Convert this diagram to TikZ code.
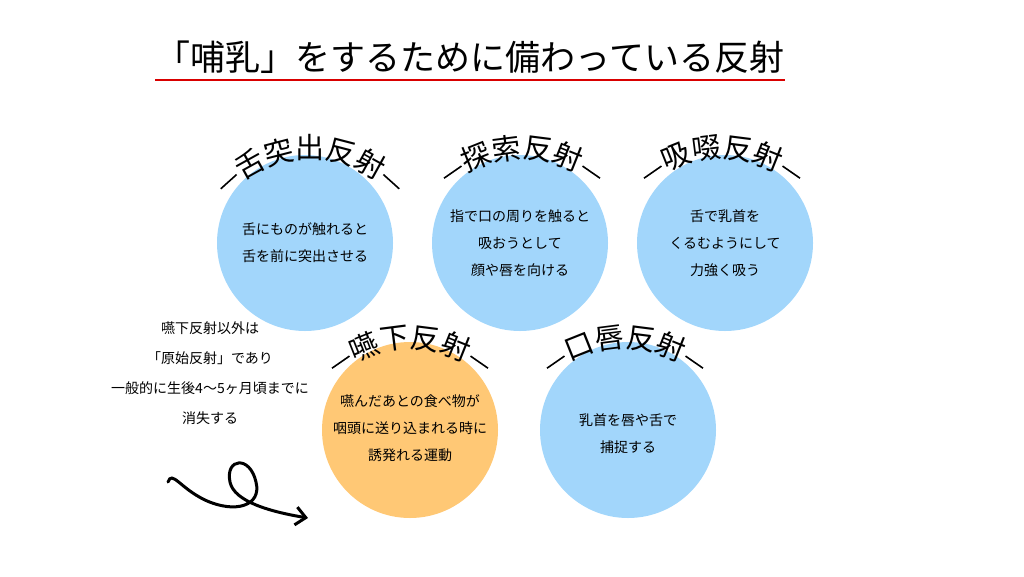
\documentclass[tikz,border=0pt]{standalone}
\usepackage{fontspec}
\setmainfont{Noto Sans CJK JP}
\usetikzlibrary{arrows.meta,calc}
\definecolor{lightblue}{HTML}{A2D6FB}
\definecolor{softorange}{HTML}{FFC875}
\tikzset{
  reflex/.style={circle,minimum size=176pt,inner sep=0pt},
  body/.style={font=\fontsize{14}{27}\selectfont,align=center},
  arcchar/.style={font=\fontsize{29}{29}\selectfont,inner sep=0pt},
  arcdash/.style={line width=1.6pt}
}
% curved label: arc centre, count, list of characters
\newcommand{\arclabel}[3]{%
  \foreach \ch [count=\i] in {#3} {
    \pgfmathsetmacro{\ang}{90-(\i-1-(#2-1)/2)*14.5}
    \node[arcchar,rotate=\ang-90] at ($(#1)+(-\ang:124)$) {\ch};
  }
  \pgfmathsetmacro{\da}{90+((#2-1)/2)*14.5+8}
  \pgfmathsetmacro{\db}{\da+10}
  \draw[arcdash] ($(#1)+(-\da:122)$) -- ($(#1)+(-\db:122)$);
  \draw[arcdash] ($(#1)+(\da-180:122)$) -- ($(#1)+(\db-180:122)$);
}
\begin{document}
\begin{tikzpicture}[x=1pt,y=-1pt]
\useasboundingbox (0,0) rectangle (1024,576);

% title
\node[font=\fontsize{35}{35}\selectfont] (title) at (470,57) {「哺乳」をするために備わっている反射};
\draw[red!85!black,line width=1.2pt] (155,80) -- (785,80);

% circles
\node[reflex,fill=lightblue] (tongue) at (305,243) {};
\node[reflex,fill=lightblue] (root) at (520,243) {};
\node[reflex,fill=lightblue] (suck) at (725,243) {};
\node[reflex,fill=softorange] (swallow) at (410,430) {};
\node[reflex,fill=lightblue] (lip) at (628,430) {};

\node[body] at (tongue) {舌にものが触れると\\舌を前に突出させる};
\node[body] at (root) {指で口の周りを触ると\\吸おうとして\\顔や唇を向ける};
\node[body] at (suck) {舌で乳首を\\くるむようにして\\力強く吸う};
\node[body] at ([yshift=2pt]swallow) {嚥んだあとの食べ物が\\咽頭に送り込まれる時に\\誘発れる運動};
\node[body] at ([yshift=-4pt]lip) {乳首を唇や舌で\\捕捉する};

% curved labels
\coordinate (tongueA) at (310,272);
\coordinate (rootA) at (522,272);
\coordinate (suckA) at (722,272);
\coordinate (swallowA) at (410,462);
\coordinate (lipA) at (625,462);
\arclabel{tongueA}{5}{舌,突,出,反,射}
\arclabel{rootA}{4}{探,索,反,射}
\arclabel{suckA}{4}{吸,啜,反,射}
\arclabel{swallowA}{4}{嚥,下,反,射}
\arclabel{lipA}{4}{口,唇,反,射}

% side note
\node[body,font=\fontsize{14}{30}\selectfont] (note) at (210,373) {嚥下反射以外は\\「原始反射」であり\\一般的に生後4〜5ヶ月頃までに\\消失する};

% swirl arrow
\draw[line width=3pt,line cap=round,-{Straight Barb[length=10pt,width=18pt]}]
  (168,482) .. controls (172,470) and (180,488) .. (205,500)
  .. controls (235,514) and (262,506) .. (256,482)
  .. controls (250,455) and (225,458) .. (230,482)
  .. controls (234,502) and (272,512) .. (308,518);
\end{tikzpicture}
\end{document}
